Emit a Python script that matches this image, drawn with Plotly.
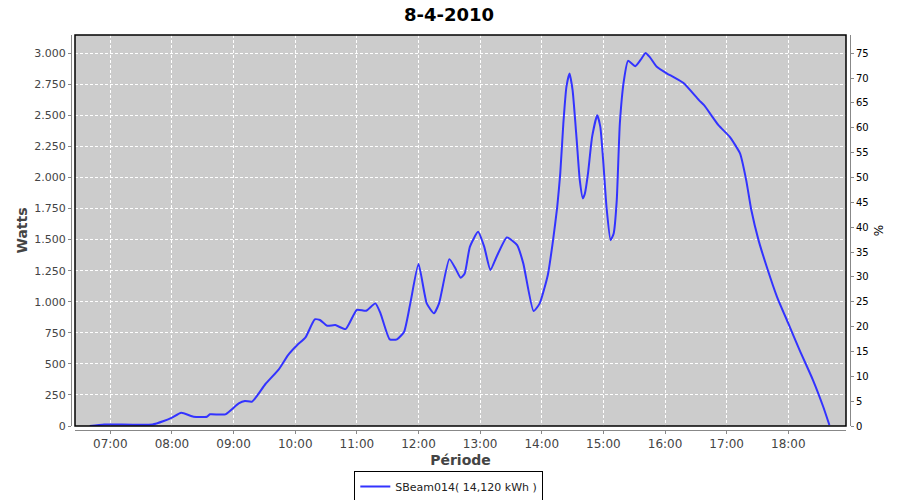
import plotly.graph_objects as go

DATE = "2010-04-08"
times = ["06:40", "06:54", "07:41", "07:52", "08:00", "08:09", "08:21", "08:34", "08:37", "08:52",
         "09:05", "09:11", "09:18", "09:31", "09:44", "09:53", "10:02", "10:10", "10:19", "10:24",
         "10:31", "10:39", "10:49", "11:00", "11:09", "11:18", "11:23", "11:32", "11:39", "11:46",
         "11:52", "12:00", "12:08", "12:15", "12:20", "12:30", "12:36", "12:41", "12:45", "12:50",
         "12:58", "13:04", "13:10", "13:16", "13:26", "13:36", "13:42", "13:52", "13:58", "14:06",
         "14:11", "14:15", "14:18", "14:21", "14:24", "14:27", "14:30", "14:34", "14:37", "14:40",
         "14:42", "14:45", "14:49", "14:54", "14:57", "15:00", "15:03", "15:07", "15:10", "15:13",
         "15:16", "15:20", "15:24", "15:31", "15:36", "15:41", "15:45", "15:52", "16:02", "16:08",
         "16:18", "16:33", "16:38", "16:52", "17:03", "17:13", "17:19", "17:24", "17:31", "17:39",
         "17:49", "18:00", "18:11", "18:24", "18:34", "18:40"]
watts = [0, 12, 12, 40, 67, 107, 75, 75, 94, 94,
         182, 201, 196, 338, 456, 571, 652, 713, 858, 853,
         807, 812, 780, 935, 928, 987, 907, 697, 697, 759,
         987, 1303, 987, 907, 987, 1343, 1268, 1193, 1228, 1442,
         1563, 1442, 1255, 1362, 1518, 1456, 1309, 925, 987, 1220,
         1496, 1760, 2033, 2435, 2730, 2837, 2703, 2301, 1979, 1832,
         1872, 2033, 2327, 2502, 2408, 2113, 1764, 1496, 1550, 1818,
         2435, 2784, 2939, 2896, 2944, 3003, 2971, 2891, 2837, 2810,
         2760, 2623, 2582, 2421, 2327, 2194, 1979, 1738, 1496, 1282,
         1040, 826, 611, 370, 155, 8]

title_text = "8-4-2010"
series_name = "SBeam014( 14,120 kWh )"
y_left_title = "Watts"
y_right_title = "%"
x_title = "Période"
x_range = ["06:25:36", "18:56:10"]
y_left_range = [0, 3147]
y_right_range = [0, 78.68]

x = [f"{DATE} {t}" for t in times]

W, H = 900, 500
ml, mr, mt, mb = 71, 50, 35, 70
pw = W - ml - mr
ph = H - mt - mb
gap = 4
dx = gap / pw
dy = gap / ph

fig = go.Figure()
fig.add_trace(go.Scatter(
    x=x, y=watts, mode="lines", name=series_name,
    line=dict(color="#3333FF", width=2, shape="spline", smoothing=0.5),
    xaxis="x", yaxis="y",
))
fig.add_trace(go.Scatter(
    x=[x[0]], y=[0], mode="lines", showlegend=False, hoverinfo="skip",
    line=dict(color="rgba(0,0,0,0)", width=0), xaxis="x", yaxis="y2",
))

GRID_DASH = "3px,2px"
fig.update_layout(
    width=W, height=H,
    margin=dict(l=ml, r=mr, t=mt, b=mb, autoexpand=False),
    paper_bgcolor="white",
    plot_bgcolor="#CCCCCC",
    separators=",.",
    title=dict(text=title_text, x=449 / W, xanchor="center", xref="container",
               y=1 - 15 / H, yanchor="middle", yref="container", automargin=False,
               font=dict(family="DejaVu Sans", size=18, color="black", weight="bold")),
    showlegend=True,
    legend=dict(orientation="h", x=0.485, xanchor="center", y=-0.104, yanchor="top",
                bordercolor="black", borderwidth=1, bgcolor="white",
                font=dict(family="DejaVu Sans", size=11, color="#222222"),
                itemwidth=30, tracegroupgap=0),
    xaxis=dict(
        domain=[dx, 1 - dx], anchor="free", position=0, automargin=False,
        type="date", range=[f"{DATE} {x_range[0]}", f"{DATE} {x_range[1]}"],
        tick0=f"{DATE} 07:00", dtick=3600000, tickformat="%H:%M",
        showgrid=True, gridcolor="white", griddash=GRID_DASH, gridwidth=1,
        showline=True, linecolor="#888888", linewidth=1,
        ticks="outside", ticklen=3, tickcolor="#888888",
        tickfont=dict(family="DejaVu Sans", size=12, color="#444444"),
        title=dict(text=x_title, font=dict(family="DejaVu Sans", size=14, color="#444444", weight="bold"), standoff=4),
        zeroline=False,
    ),
    yaxis=dict(
        domain=[dy, 1], anchor="free", position=0, automargin=False,
        range=y_left_range, dtick=250, tickformat=",d",
        showgrid=True, gridcolor="white", griddash=GRID_DASH, gridwidth=1,
        showline=True, linecolor="#888888", linewidth=1,
        ticks="outside", ticklen=3, tickcolor="#888888",
        tickfont=dict(family="DejaVu Sans", size=11, color="#444444"),
        title=dict(text=y_left_title, font=dict(family="DejaVu Sans", size=14, color="#444444", weight="bold"), standoff=2),
        zeroline=False,
    ),
    yaxis2=dict(
        overlaying="y", anchor="free", position=1, side="right", automargin=False,
        range=y_right_range, dtick=5,
        showgrid=False, zeroline=False,
        showline=True, linecolor="#888888", linewidth=1,
        ticks="outside", ticklen=3, tickcolor="#888888",
        tickfont=dict(family="DejaVu Sans", size=10, color="black"),
        title=dict(text=y_right_title, font=dict(family="DejaVu Sans", size=12, color="black"), standoff=6),
    ),
    shapes=[dict(type="rect", xref="paper", yref="paper", x0=dx, x1=1 - dx, y0=dy, y1=1,
                 line=dict(color="black", width=1.5), layer="above")],
)

fig.write_html("out.html", config={"displayModeBar": False},
               post_script="document.body.style.margin='0';document.body.style.overflow='hidden';")
